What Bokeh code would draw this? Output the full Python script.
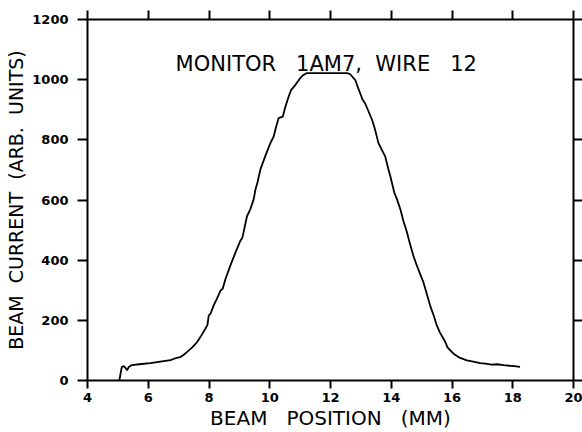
from bokeh.plotting import figure
from bokeh.models import Range1d, LinearAxis, FixedTicker, Label
from bokeh.embed import file_html
from bokeh.resources import INLINE

beam_position = [5.05, 5.10, 5.13, 5.19, 5.25, 5.30, 5.36, 5.45, 5.70, 6.07, 6.40, 6.73,
                 6.90, 7.06, 7.15, 7.28, 7.45, 7.61, 7.75, 7.88, 7.95, 7.99, 8.05, 8.15,
                 8.25, 8.38, 8.45, 8.55, 8.70, 8.85, 9.03, 9.10, 9.25, 9.36, 9.47, 9.53,
                 9.60, 9.69, 9.85, 10.02, 10.13, 10.20, 10.29, 10.43, 10.50, 10.62, 10.70,
                 10.84, 11.00, 11.10, 11.23, 12.00, 12.55, 12.65, 12.82, 12.90, 12.98,
                 13.05, 13.14, 13.25, 13.37, 13.45, 13.58, 13.70, 13.80, 13.90, 13.97,
                 14.10, 14.19, 14.30, 14.40, 14.52, 14.60, 14.73, 14.85, 15.06, 15.15,
                 15.28, 15.40, 15.50, 15.60, 15.78, 15.85, 16.05, 16.25, 16.49, 16.70,
                 16.93, 17.10, 17.30, 17.48, 17.70, 17.90, 18.05, 18.24]
beam_current = [0, 30, 45, 48, 42, 34, 45, 51, 54, 58, 63, 68,
                74, 78, 84, 95, 110, 128, 150, 172, 185, 216, 222, 249,
                270, 299, 305, 340, 381, 420, 464, 475, 546, 569, 602, 635,
                660, 701, 745, 789, 811, 840, 872, 877, 905, 943, 965,
                982, 1005, 1015, 1022, 1022, 1022, 1018, 998, 975, 954,
                935, 921, 895, 866, 840, 789, 765, 745, 705, 679,
                625, 602, 569, 530, 492, 460, 414, 380, 326, 295,
                249, 215, 183, 160, 128, 110, 89, 76, 67, 63,
                58, 56, 53, 54, 51, 49, 48, 45]

x_ticks = [4, 6, 8, 10, 12, 14, 16, 18, 20]
y_ticks = [0, 200, 400, 600, 800, 1000, 1200]
NB = "\u00a0"
title_text = "MONITOR" + NB * 2 + " 1AM7," + NB + " WIRE" + NB * 2 + " 12"
x_label = "BEAM" + NB * 2 + " POSITION" + NB * 2 + " (MM)"
y_label = "BEAM" + NB + " CURRENT" + NB + " (ARB." + NB + " UNITS)"

FONT = "DejaVu Sans"

p = figure(width=582, height=432, output_backend="svg", toolbar_location=None,
           x_range=Range1d(4, 20), y_range=Range1d(0, 1200),
           x_axis_location=None, y_axis_location=None,
           min_border_left=87, min_border_right=9, min_border_top=19, min_border_bottom=50)
p.outline_line_color = None
p.xgrid.visible = False
p.ygrid.visible = False
p.background_fill_color = "white"
p.border_fill_color = "white"


def style(ax, labels=True):
    ax.axis_line_color = "black"
    ax.axis_line_width = 2
    ax.major_tick_line_color = "black"
    ax.major_tick_line_width = 2
    ax.major_tick_in = 0
    ax.minor_tick_line_color = None
    if labels:
        ax.major_label_text_font = FONT
        ax.major_label_text_font_style = "bold"
        ax.major_label_text_font_size = "13px"
        ax.major_label_text_color = "black"
    else:
        ax.major_label_overrides = {t: "" for t in ax.ticker.ticks}
        ax.major_label_text_font_size = "1px"
        ax.major_label_standoff = 0


bottom = LinearAxis(ticker=FixedTicker(ticks=x_ticks), axis_label=x_label)
style(bottom)
bottom.major_tick_out = 8
bottom.major_label_standoff = 4
bottom.axis_label_text_font = FONT
bottom.axis_label_text_font_style = "normal"
bottom.axis_label_text_font_size = "20px"
bottom.axis_label_text_color = "black"
bottom.axis_label_standoff = 1
p.add_layout(bottom, "below")

left = LinearAxis(ticker=FixedTicker(ticks=y_ticks), axis_label=y_label)
style(left)
left.major_tick_out = 10
left.major_label_standoff = 9
left.axis_label_text_font = FONT
left.axis_label_text_font_style = "normal"
left.axis_label_text_font_size = "19px"
left.axis_label_text_color = "black"
left.axis_label_standoff = 2
p.add_layout(left, "left")

top = LinearAxis(ticker=FixedTicker(ticks=x_ticks))
style(top, labels=False)
top.major_tick_out = 9
p.add_layout(top, "above")

right = LinearAxis(ticker=FixedTicker(ticks=y_ticks))
style(right, labels=False)
right.major_tick_out = 9
p.add_layout(right, "right")

p.line(beam_position, beam_current, line_color="black", line_width=1.8)

p.add_layout(Label(x=11.86, y=1051, text=title_text, text_align="center",
                   text_baseline="middle", text_font=FONT, text_font_size="21px",
                   text_color="black"))

open("out.html", "w").write(file_html(p, INLINE))
